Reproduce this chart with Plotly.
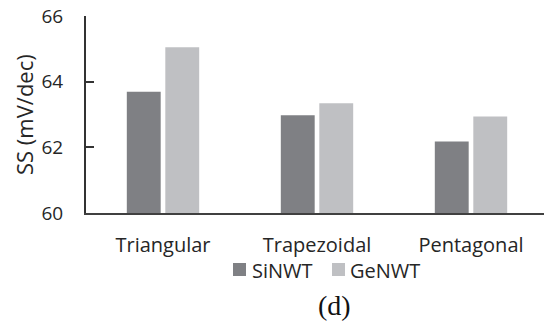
import plotly.graph_objects as go

categories = ["Triangular", "Trapezoidal", "Pentagonal"]
series_names = ["SiNWT", "GeNWT"]
si_values = [63.69, 62.98, 62.18]
ge_values = [65.05, 63.34, 62.94]
y_ticks = [60, 62, 64, 66]
colors = ["#7f8084", "#bfc0c3"]

font_family = "Open Sans, Lato, sans-serif"
text_color = "#262626"

fig = go.Figure()
for name, vals, col in zip(series_names, [si_values, ge_values], colors):
    fig.add_trace(go.Bar(name=name, x=categories, y=vals,
                         marker=dict(color=col, line=dict(width=0))))

# legend drawn as swatches + labels (plot area: x 86..544, y 16..213 px)
PW, PH = 458.0, 197.0
def px(x):
    return (x - 86) / PW
def py(y):
    return (213 - y) / PH

shapes = []
annotations = []
legend_items = [(233, 250), (332, 348)]
for (sq_x, tx_x), name, col in zip(legend_items, series_names, colors):
    shapes.append(dict(type="rect", xref="paper", yref="paper",
                       x0=px(sq_x), x1=px(sq_x + 13), y0=py(276), y1=py(263),
                       fillcolor=col, line=dict(width=0)))
    annotations.append(dict(text=name, xref="paper", yref="paper", x=px(tx_x), y=py(270),
                            xanchor="left", yanchor="middle", showarrow=False,
                            font=dict(size=20, color=text_color, family=font_family)))

annotations.append(dict(text="SS (mV/dec)", textangle=-90, xref="paper", yref="paper",
                        x=px(24), y=py(114), xanchor="center", yanchor="middle",
                        showarrow=False,
                        font=dict(size=22, color=text_color, family=font_family)))
annotations.append(dict(text="(d)", xref="paper", yref="paper", x=px(334), y=py(305),
                        xanchor="center", yanchor="middle", showarrow=False,
                        font=dict(size=28, color="#111111", family="Liberation Serif, serif")))

fig.update_layout(
    width=544, height=324,
    margin=dict(l=86, r=0, t=16, b=111, autoexpand=False),
    paper_bgcolor="white", plot_bgcolor="white",
    barmode="group", bargap=0.5, bargroupgap=0.12,
    font=dict(family=font_family, size=20, color=text_color),
    showlegend=False,
    xaxis=dict(range=[-0.5, 2.474], showline=True, linecolor="#404040", linewidth=2,
               ticks="", showgrid=False, tickfont=dict(size=20, color=text_color),
               ticklabelstandoff=13),
    yaxis=dict(range=[60, 66], tickvals=y_ticks, showline=True, linecolor="#333333",
               linewidth=2, ticks="inside", ticklen=8, tickwidth=2, tickcolor="#333333",
               showgrid=False, zeroline=False, tickfont=dict(size=19, color=text_color),
               ticklabelstandoff=17),
    shapes=shapes,
    annotations=annotations,
)

fig.write_html("out.html", config={"displayModeBar": False},
               post_script="document.body.style.margin='0px';")
